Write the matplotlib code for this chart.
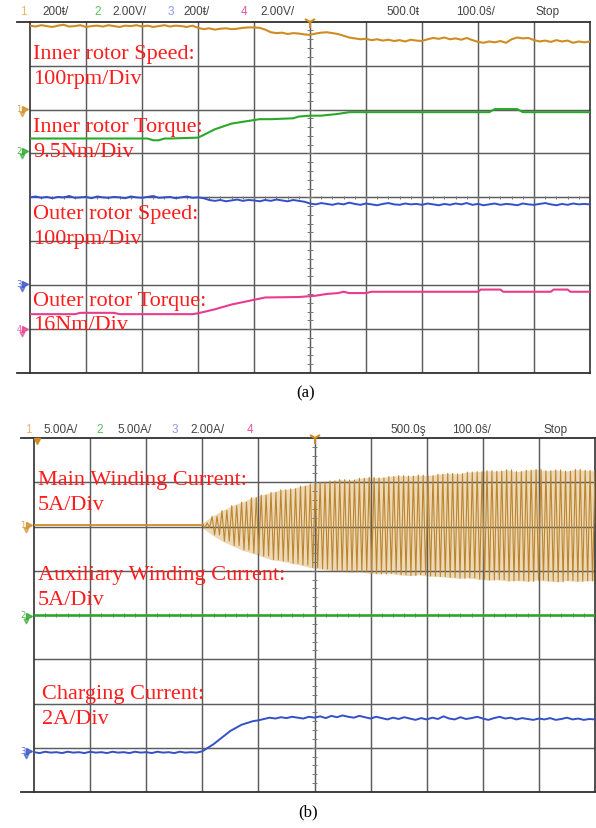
import matplotlib.pyplot as plt
import numpy as np

# ---------------- data (screen divisions: x 0..10, y 0..8) ----------------
# panel (a)
speed_in = [7.91, 7.89, 7.92, 7.90, 7.88, 7.91, 7.93, 7.89, 7.90, 7.92,
            7.88, 7.90, 7.91, 7.89, 7.92, 7.90, 7.88, 7.91, 7.90, 7.92,
            7.89, 7.91, 7.88, 7.90, 7.92, 7.89, 7.91, 7.90, 7.88, 7.91,
            7.86, 7.83, 7.85, 7.82, 7.84, 7.85, 7.83, 7.84, 7.86, 7.87,
            7.87, 7.86, 7.82, 7.76, 7.74, 7.75, 7.72, 7.74, 7.73, 7.71,
            7.70, 7.73, 7.75, 7.76, 7.74, 7.72, 7.68, 7.64, 7.62, 7.60,
            7.61, 7.58, 7.60, 7.57, 7.59, 7.56, 7.58, 7.55, 7.59, 7.57,
            7.56, 7.60, 7.63, 7.61, 7.64, 7.60, 7.62, 7.59, 7.63, 7.58,
            7.54, 7.52, 7.55, 7.53, 7.56, 7.52, 7.60, 7.64, 7.62, 7.63,
            7.58, 7.55, 7.57, 7.54, 7.58, 7.55, 7.57, 7.52, 7.55, 7.53, 7.55]

torque_in_x = [0, 2.1, 2.2, 2.3, 2.4, 2.5, 3.0, 3.1, 3.3, 3.6, 3.9, 4.1, 4.3,
               4.7, 4.8, 5.0, 5.2, 5.5, 5.7, 7.0, 7.1, 8.2, 8.3, 8.7, 8.8, 10.0]
torque_in_y = [5.34, 5.34, 5.30, 5.30, 5.34, 5.34, 5.36, 5.42, 5.55, 5.68, 5.74,
               5.78, 5.78, 5.80, 5.84, 5.86, 5.86, 5.90, 5.94, 5.94, 5.94, 5.94,
               6.01, 6.01, 5.94, 5.94]

speed_out = [4.00, 4.02, 3.99, 4.01, 3.98, 4.01, 4.00, 4.03, 3.99, 4.00,
             4.01, 3.98, 4.02, 4.00, 3.99, 4.01, 4.00, 3.98, 4.02, 4.00,
             3.99, 4.01, 4.03, 3.99, 4.00, 4.01, 3.98, 4.00, 4.02, 3.99,
             4.00, 3.98, 3.94, 3.92, 3.94, 3.91, 3.93, 3.95, 3.92, 3.94,
             3.93, 3.91, 3.94, 3.92, 3.95, 3.93, 3.91, 3.94, 3.92, 3.90,
             3.86, 3.84, 3.87, 3.85, 3.83, 3.86, 3.84, 3.88, 3.85, 3.83,
             3.86, 3.84, 3.82, 3.85, 3.87, 3.84, 3.83, 3.86, 3.84, 3.85,
             3.83, 3.86, 3.84, 3.82, 3.85, 3.83, 3.86, 3.84, 3.87, 3.83,
             3.85, 3.82, 3.84, 3.86, 3.83, 3.85, 3.84, 3.82, 3.86, 3.84,
             3.83, 3.85, 3.87, 3.84, 3.82, 3.85, 3.83, 3.86, 3.84, 3.85, 3.84]

torque_out_x = [0, 0.8, 0.9, 1.5, 1.6, 2.9, 3.0, 3.3, 3.6, 3.9, 4.2, 4.8, 5.1, 5.3,
                5.5, 5.6, 5.7, 6.0, 6.1, 8.0, 8.05, 8.4, 8.45, 9.3, 9.35, 9.6, 9.65, 10.0]
torque_out_y = [1.34, 1.34, 1.37, 1.37, 1.34, 1.34, 1.36, 1.45, 1.56, 1.64, 1.72,
                1.73, 1.76, 1.80, 1.82, 1.85, 1.82, 1.82, 1.85, 1.85, 1.90, 1.90,
                1.85, 1.85, 1.90, 1.90, 1.85, 1.85]

# panel (b)
main_base = 6.03
main_start = 3.0
main_hi = [0.05, 0.20, 0.33, 0.44, 0.52, 0.62, 0.68, 0.74, 0.80, 0.82, 0.88,
           0.93, 0.97, 1.00, 1.03, 1.02, 1.06, 1.08, 1.07, 1.10, 1.12, 1.11,
           1.13, 1.12, 1.15, 1.17, 1.16, 1.20, 1.21, 1.23, 1.22, 1.25, 1.21,
           1.24, 1.26, 1.23, 1.25, 1.22, 1.26, 1.24, 1.23]
main_lo = [0.06, 0.22, 0.36, 0.46, 0.56, 0.63, 0.70, 0.78, 0.81, 0.86, 0.90,
           0.96, 0.99, 1.02, 1.04, 1.06, 1.05, 1.09, 1.10, 1.09, 1.12, 1.14,
           1.12, 1.15, 1.16, 1.18, 1.20, 1.19, 1.22, 1.24, 1.23, 1.26, 1.25,
           1.27, 1.24, 1.26, 1.28, 1.25, 1.27, 1.26, 1.25]

aux_x = [0, 10]
aux_y = [3.99, 3.99]

charge = [0.90, 0.88, 0.91, 0.89, 0.90, 0.88, 0.91, 0.89, 0.90, 0.88,
          0.91, 0.89, 0.90, 0.88, 0.91, 0.89, 0.90, 0.88, 0.91, 0.89,
          0.90, 0.88, 0.91, 0.89, 0.90, 0.88, 0.91, 0.89, 0.90, 0.89,
          0.92, 1.00, 1.08, 1.18, 1.28, 1.38, 1.45, 1.52, 1.56, 1.60,
          1.62, 1.65, 1.68, 1.66, 1.69, 1.67, 1.70, 1.68, 1.66, 1.70,
          1.68, 1.71, 1.67, 1.72, 1.69, 1.73, 1.70, 1.68, 1.72, 1.69,
          1.66, 1.70, 1.67, 1.64, 1.68, 1.65, 1.69, 1.66, 1.63, 1.67,
          1.64, 1.68, 1.65, 1.71, 1.66, 1.64, 1.69, 1.65, 1.67, 1.70,
          1.66, 1.63, 1.67, 1.70, 1.66, 1.68, 1.64, 1.67, 1.65, 1.63,
          1.66, 1.64, 1.67, 1.63, 1.65, 1.68, 1.64, 1.66, 1.63, 1.65, 1.64]

ORANGE = '#d08c22'
GREEN = '#2aa82a'
BLUE = '#3350c8'
MAGENTA = '#e83c8c'
RED = '#ff1c1c'
GRID = '#5c5c5c'
EDGE = '#303030'

W, H = 596, 829
fig = plt.figure(figsize=(W / 100, H / 100), dpi=100)


def panel(l, t, r, b, ext):
    ax = fig.add_axes([l / W, 1 - b / H, (r - l) / W, (b - t) / H])
    ax.set_xlim(0, 10)
    ax.set_ylim(0, 8)
    ax.axis('off')
    for i in range(1, 10):
        ax.axvline(i, color=GRID, lw=1.05, zorder=1)
    for j in range(1, 8):
        ax.axhline(j, color=GRID, lw=1.05, zorder=1)
    ax.plot([0, 0], [0, 8], color=EDGE, lw=1.2, clip_on=False, zorder=1)
    ax.plot([10, 10], [0, 8], color=EDGE, lw=1.2, clip_on=False, zorder=1)
    ax.plot([-ext, 10], [8, 8], color=EDGE, lw=1.3, clip_on=False, zorder=1)
    ax.plot([-ext, 10], [0, 0], color=EDGE, lw=1.3, clip_on=False, zorder=1)
    tk = np.arange(0.2, 8, 0.2)
    ax.hlines(tk, 4.95, 5.05, color='#777777', lw=0.7, zorder=1)
    tk = np.arange(0.2, 10, 0.2)
    ax.vlines(tk, 3.96, 4.04, color='#777777', lw=0.7, zorder=1)
    return ax


ax_a = panel(30, 22.7, 590, 374, 13 / 56)
ax_b = panel(34, 439, 595, 793, 13 / 56)

t101 = np.linspace(0, 10, 101)

# (a) traces
ax_a.plot(t101, speed_in, color=ORANGE, lw=1.5, zorder=3)
ax_a.plot(torque_in_x, torque_in_y, color=GREEN, lw=1.5, zorder=3)
ax_a.plot(t101, speed_out, color=BLUE, lw=1.4, zorder=3)
ax_a.plot(torque_out_x, torque_out_y, color=MAGENTA, lw=1.5, zorder=3)

# (b) traces: main winding drawn as dense swings, each envelope sample held for 2 swings
hi = np.array(main_hi)
lo = np.array(main_lo)
step = 0.175
mt = main_start + step * np.arange(len(hi))
ax_b.fill_between(mt, main_base + hi, main_base - lo, color='#eed9b6', lw=0, zorder=0.5)
k = 2
n = len(hi) * k
zt = main_start + (step / k) * np.arange(n)
hold_hi = np.repeat(hi, k)
hold_lo = np.repeat(lo, k)
xs = np.empty(2 * n)
ys = np.empty(2 * n)
xs[0::2] = zt
xs[1::2] = zt + step / (2 * k)
ys[0::2] = main_base + hold_hi
ys[1::2] = main_base - hold_lo
ax_b.plot([0, main_start], [main_base, main_base], color=ORANGE, lw=1.3, zorder=3)
ax_b.plot(xs, ys, color='#bb8530', lw=0.8, zorder=3)
ax_b.plot(aux_x, aux_y, color=GREEN, lw=1.8, zorder=3)
ax_b.plot(t101, charge, color=BLUE, lw=1.4, zorder=3)

# trigger markers
ax_a.plot([5], [8.0], marker='1', ms=9, mew=1.5, color=ORANGE, clip_on=False, zorder=4)
ax_b.plot([5], [8.0], marker='1', ms=9, mew=1.5, color=ORANGE, clip_on=False, zorder=4)
ax_b.plot([0.05], [7.93], marker='v', ms=4, color=ORANGE, clip_on=False, zorder=4)

# overlay for text in pixel coordinates
ov = fig.add_axes([0, 0, 1, 1])
ov.set_xlim(0, W)
ov.set_ylim(H, 0)
ov.axis('off')

hdr = dict(fontsize=8.5, family='Liberation Sans', va='center')


def header(y, items):
    for x, s, c in items:
        ov.text(x, y, s, ha='left', color=c, **hdr)


header(12, [(20, '1', '#f2b464'), (42, '200ŧ/', '#444444'), (94, '2', '#5cc05c'),
            (112, '2.00V/', '#444444'), (168, '3', '#8a9ae6'), (183, '200ŧ/', '#444444'),
            (241, '4', '#ee55a8'), (260, '2.00V/', '#444444'), (386, '500.0ŧ', '#444444'),
            (456, '100.0ŝ/', '#444444'), (536, 'Stop', '#444444')])
header(430, [(25, '1', '#f2b464'), (43, '5.00A/', '#444444'), (96, '2', '#5cc05c'),
             (117, '5.00A/', '#444444'), (172, '3', '#8a9ae6'), (190, '2.00A/', '#444444'),
             (247, '4', '#ee55a8'), (390, '500.0ş', '#444444'), (452, '100.0ŝ/', '#444444'),
             (543, 'Stop', '#444444')])

# channel ground markers
for x, y, s, c in [(22, 110, '1', ORANGE), (22, 152, '2', GREEN), (22, 285, '3', BLUE),
                   (22, 330, '4', MAGENTA), (26, 526, '1', ORANGE), (26, 617, '2', GREEN),
                   (26, 752, '3', BLUE)]:
    ov.text(x - 3, y - 1, s, fontsize=6, color=c, ha='center', va='center', alpha=0.8)
    ov.plot([x + 3], [y], marker='>', ms=4, color=c, alpha=0.8)
    ov.plot([x], [y + 5], marker='v', ms=3.5, color=c, alpha=0.6)

lab = dict(fontsize=16, family='Liberation Serif', color=RED, va='baseline', ha='left')
for x, y, s in [(33, 59, 'Inner rotor Speed:'), (33, 84, '100rpm/Div'),
                (33, 132, 'Inner rotor Torque:'), (33, 157, '9.5Nm/Div'),
                (33, 219, 'Outer rotor Speed:'), (33, 244, '100rpm/Div'),
                (33, 306, 'Outer rotor Torque:'), (33, 330, '16Nm/Div'),
                (38, 485, 'Main Winding Current:'), (38, 510, '5A/Div'),
                (38, 580, 'Auxiliary Winding Current:'), (38, 605, '5A/Div'),
                (42, 699, 'Charging Current:'), (42, 724, '2A/Div')]:
    ov.text(x, y, s, **lab)

ov.text(306, 393, '(a)', fontsize=12, family='Liberation Serif', ha='center', va='center')
ov.text(308, 812, '(b)', fontsize=12, family='Liberation Serif', ha='center', va='center')

fig.savefig('out.png', dpi=100)
